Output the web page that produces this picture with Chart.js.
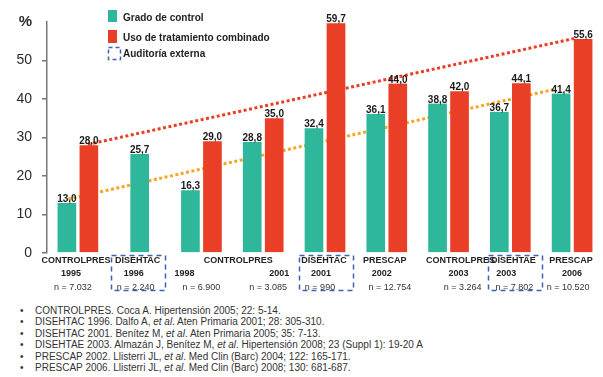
<!DOCTYPE html>
<html>
<head>
<meta charset="utf-8">
<script src="https://cdn.jsdelivr.net/npm/chart.js@4/dist/chart.umd.min.js"></script>
<style>
  html, body { margin: 0; padding: 0; background: #fff; }
  #wrap { position: relative; width: 603px; height: 377px; overflow: hidden; }
  #chart { display: block; }
  .refs { position: absolute; left: 0; top: 305px; margin: 0; padding: 0; list-style: none;
          font: 10px "Liberation Sans", Arial, sans-serif; color: #333; line-height: 11.4px; }
  .refs li { position: relative; padding-left: 35px; white-space: nowrap; }
  .refs li::before { content: "\2022"; position: absolute; left: 20px; }
</style>
</head>
<body>
<div id="wrap">
  <canvas id="chart" width="603" height="300"></canvas>
  <ul class="refs">
    <li>CONTROLPRES. Coca A. Hipertensión 2005; 22: 5-14.</li>
    <li>DISEHTAC 1996. Dalfo A, <i>et al</i>. Aten Primaria 2001; 28: 305-310.</li>
    <li>DISEHTAC 2001. Benítez M, <i>et al</i>. Aten Primaria 2005; 35: 7-13.</li>
    <li>DISEHTAE 2003. Almazán J, Benítez M, <i>et al</i>. Hipertensión 2008; 23 (Suppl 1): 19-20 A</li>
    <li>PRESCAP 2002. Llisterri JL, <i>et al</i>. Med Clin (Barc) 2004; 122: 165-171.</li>
    <li>PRESCAP 2006. Llisterri JL, <i>et al</i>. Med Clin (Barc) 2008; 130: 681-687.</li>
  </ul>
</div>
<script>
const studyNames = ['CONTROLPRES', 'DISEHTAC', 'CONTROLPRES', 'CONTROLPRES', 'DISEHTAC', 'PRESCAP', 'CONTROLPRES', 'DISEHTAE', 'PRESCAP'];
const studyYears = ['1995', '1996', '1998', '2001', '2001', '2002', '2003', '2003', '2006'];
const sampleSizes = ['n = 7.032', 'n = 2.240', 'n = 6.900', 'n = 3.085', 'n = 990', 'n = 12.754', 'n = 3.264', 'n = 7.802', 'n = 10.520'];
const externalAudit = [false, true, false, false, true, false, false, true, false];

const gradoControl = [13.0, 25.7, 16.3, 28.8, 32.4, 36.1, 38.8, 36.7, 41.4];
const tratamientoCombinado = [28.0, null, 29.0, 35.0, 59.7, 44.0, 42.0, 44.1, 55.6];

// dotted trend lines, x in study index units
const trendCombinadoX = [0.16, 8.03];
const trendCombinadoY = [28.2, 55.7];
const trendControlX = [-0.16, 7.74];
const trendControlY = [14.0, 42.6];

const yTicks = [0, 10, 20, 30, 40, 50, 60]; // 60 carries the "%" unit

const TEAL = '#2fb79b';
const RED = '#ea3f27';
const ORANGE = '#f5a623';
const BLUE = '#3b62b5';
const FONT = '"Liberation Sans", Arial, sans-serif';

const toPoints = (xs, ys) => xs.map((x, i) => ({ x, y: ys[i] }));
const fmt = v => v.toFixed(1).replace('.', ',');

// nudges (px) so the axis captions sit like in the slide
const nameShift = [-2, -2, null, -25, -1, -2, 12, 3, -1];
const yearShift = [-7, -6, -17, 16, -4, -5, 10, -4, 0];
const nShift = [-5, -4, 0, 5, -5, 3, 14, 4, -4];
const boxShift = [0, -2, 0, 0, 1, 0, 0, 5, 0];

const slidePlugin = {
  id: 'slide',
  afterDatasetsDraw(chart) {
    const ctx = chart.ctx;
    ctx.save();
    ctx.font = 'bold 10px ' + FONT;
    ctx.fillStyle = '#1a1a1a';
    ctx.textAlign = 'center';
    ctx.textBaseline = 'alphabetic';
    [0, 1].forEach(di => {
      const meta = chart.getDatasetMeta(di);
      chart.data.datasets[di].data.forEach((v, i) => {
        if (v == null) return;
        const bar = meta.data[i];
        ctx.fillText(fmt(v), bar.x, bar.y - 1);
      });
    });
    ctx.restore();
  },
  afterDraw(chart) {
    const ctx = chart.ctx;
    const xs = chart.scales.x;
    ctx.save();

    // legend
    ctx.textAlign = 'left';
    ctx.textBaseline = 'middle';
    ctx.font = 'bold 10px ' + FONT;
    ctx.fillStyle = TEAL;
    ctx.fillRect(108, 10, 9, 12);
    ctx.fillStyle = RED;
    ctx.fillRect(108, 30, 9, 13);
    ctx.fillStyle = '#222';
    ctx.fillText(chart.data.datasets[0].label, 123, 18);
    ctx.fillText(chart.data.datasets[1].label, 123, 38);
    ctx.fillText('Auditoría externa', 123, 54);
    ctx.strokeStyle = BLUE;
    ctx.lineWidth = 1.5;
    ctx.setLineDash([4, 3]);
    ctx.strokeRect(108.5, 47.5, 12, 12);

    // category captions
    ctx.setLineDash([]);
    ctx.textAlign = 'center';
    studyNames.forEach((name, i) => {
      const cx = xs.getPixelForTick(i);
      ctx.fillStyle = '#222';
      ctx.font = 'bold 9px ' + FONT;
      if (nameShift[i] !== null) ctx.fillText(name, cx + nameShift[i], 261);
      ctx.fillText(studyYears[i], cx + yearShift[i], 274);
      ctx.font = '9px ' + FONT;
      ctx.fillStyle = '#333';
      ctx.fillText(sampleSizes[i], cx + nShift[i], 288);
      if (externalAudit[i]) {
        ctx.strokeStyle = BLUE;
        ctx.lineWidth = 1.5;
        ctx.setLineDash([5, 4]);
        ctx.strokeRect(Math.round(cx + boxShift[i] - 27) + 0.5, 255.5, 54, 35);
        ctx.setLineDash([]);
      }
    });
    ctx.restore();
  }
};

const barStyle = {
  borderColor: 'rgba(0,0,0,0)',
  borderWidth: { left: 2, right: 2, top: 0, bottom: 0 },
  barThickness: 22,
  skipNull: true,
  order: 1
};

// trend lines share the category axis; parsing off so x can sit between categories
const trendStyle = {
  type: 'line',
  parsing: false,
  borderWidth: 3,
  borderDash: [3, 2.5],
  pointRadius: 0,
  fill: false,
  order: 2
};

new Chart(document.getElementById('chart'), {
  data: {
    labels: studyNames.map((n, i) => n + ' ' + studyYears[i]),
    datasets: [
      Object.assign({ type: 'bar', label: 'Grado de control', data: gradoControl, backgroundColor: TEAL }, barStyle),
      Object.assign({ type: 'bar', label: 'Uso de tratamiento combinado', data: tratamientoCombinado, backgroundColor: RED }, barStyle),
      Object.assign({ label: 'Tendencia combinado', data: toPoints(trendCombinadoX, trendCombinadoY), borderColor: RED }, trendStyle),
      Object.assign({ label: 'Tendencia control', data: toPoints(trendControlX, trendControlY), borderColor: ORANGE }, trendStyle)
    ]
  },
  options: {
    responsive: false,
    animation: false,
    layout: { padding: { top: 22, right: 0, left: 0, bottom: 0 } },
    plugins: {
      legend: { display: false },
      tooltip: { enabled: false }
    },
    scales: {
      x: {
        type: 'category',
        ticks: { display: false },
        grid: { display: false },
        border: { display: false },
        afterFit: s => { s.height = 47; }
      },
      y: {
        min: yTicks[0],
        max: yTicks[yTicks.length - 1],
        afterBuildTicks: s => { s.ticks = yTicks.map(v => ({ value: v })); },
        ticks: {
          padding: 10,
          color: '#2b2b2b',
          font: c => (c.tick && c.tick.value === 60)
            ? { family: FONT, size: 15, weight: 'bold' }
            : { family: FONT, size: 14 },
          callback: v => (v === 60 ? '%' : v)
        },
        grid: {
          drawOnChartArea: false,
          drawTicks: true,
          tickLength: 5,
          lineWidth: 1.5,
          color: c => (c.tick && c.tick.value === 60) ? 'rgba(0,0,0,0)' : '#777'
        },
        border: { display: true, color: '#777', width: 1.5 },
        afterFit: s => { s.width = 47; }
      }
    }
  },
  plugins: [slidePlugin]
});
</script>
</body>
</html>
